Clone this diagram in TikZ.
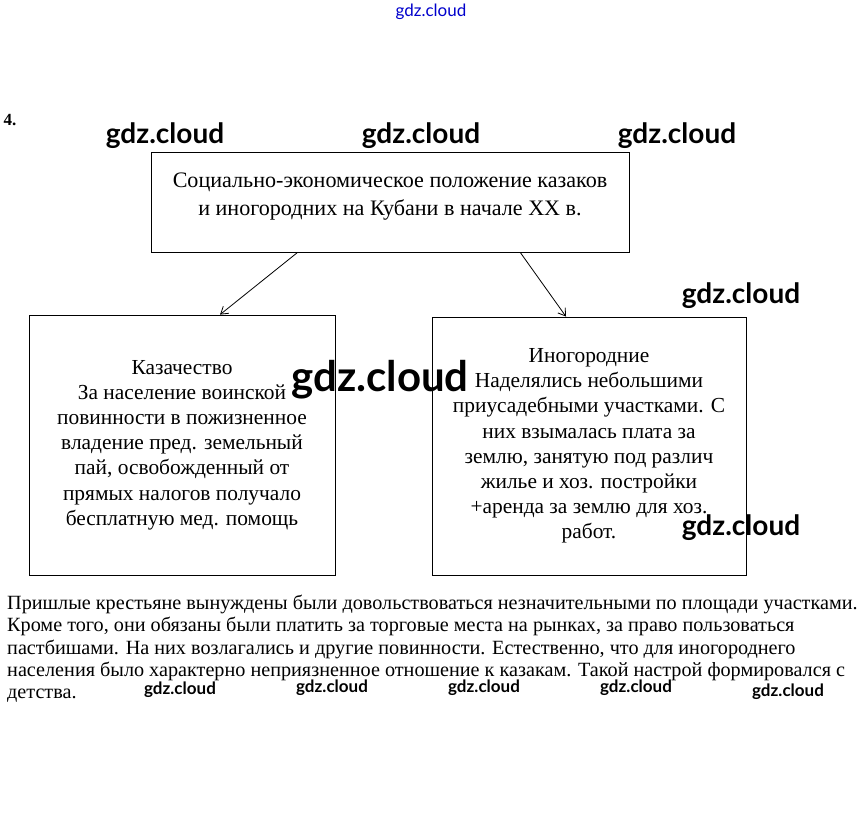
\documentclass[tikz,border=0pt]{standalone}
\usepackage{fontspec}
\setmainfont{Liberation Serif}
\newfontfamily\wmfont{Lato}
\usetikzlibrary{arrows.meta,calc}

\tikzset{
  box/.style={draw,thick,align=center,inner sep=0pt},
  arr/.style={-{Straight Barb[length=7pt,width=9pt]},thick},
  wm/.style={font=\wmfont\bfseries\fontsize{28}{28}\selectfont},
  wmsmall/.style={font=\wmfont\bfseries\fontsize{17}{17}\selectfont}
}

\begin{document}
\begin{tikzpicture}[x=1pt,y=-1pt]
  % --- Page ---
  \useasboundingbox[fill=white] (0,0) rectangle (862,812);

  % --- Number ---
  \node[anchor=west,font=\bfseries\fontsize{17}{17}\selectfont] (num) at (0,120) {4.};

  % --- Top box ---
  \node[box,minimum width=478,minimum height=100,text depth=16pt,
        font=\fontsize{22.1}{28}\selectfont] (head) at (390,202)
        {Социально-экономическое положение казаков\\
         и иногородних на Кубани в начале XX в.};

  % --- Lower boxes ---
  \node[box,minimum width=306,minimum height=260,
        font=\fontsize{21.4}{25.2}\selectfont] (cossacks) at (182,445)
        {Казачество\\
         За население воинской\\
         повинности в пожизненное\\
         владение пред. земельный\\
         пай, освобожденный от\\
         прямых налогов получало\\
         бесплатную мед. помощь};

  \node[box,minimum width=314,minimum height=258,
        font=\fontsize{21.4}{25.2}\selectfont] (outsiders) at (589,446)
        {Иногородние\\
         Наделялись небольшими\\
         приусадебными участками. С\\
         них взымалась плата за\\
         землю, занятую под различ\\
         жилье и хоз. постройки\\
         +аренда за землю для хоз.\\
         работ.};

  % --- Arrows ---
  \draw[arr] ($(head.south west)!0.307!(head.south east)$)
          -- ($(cossacks.north west)!0.624!(cossacks.north east)$);
  \draw[arr] ($(head.south west)!0.772!(head.south east)$)
          -- ($(outsiders.north west)!0.427!(outsiders.north east)$);

  % --- Paragraph ---
  \node[anchor=north west,align=left,inner sep=0pt,
        font=\fontsize{20.2}{22.3}\selectfont] (text) at (7,595)
        {Пришлые крестьяне вынуждены были довольствоваться незначительными по площади участками.\\
         Кроме того, они обязаны были платить за торговые места на рынках, за право пользоваться\\
         пастбишами. На них возлагались и другие повинности. Естественно, что для иногороднего\\
         населения было характерно неприязненное отношение к казакам. Такой настрой формировался с\\
         детства.};

  % --- Watermarks ---
  \node[font=\wmfont\fontsize{17}{17}\selectfont,text=blue!80!black] (wm0) at (431,12) {gdz.cloud};
  \foreach \x/\y [count=\i] in {165/136,421/136,677/136,741/296,741/528}
    \node[wm] (wm\i) at (\x,\y) {gdz.cloud};
  \node[wm,font=\wmfont\bfseries\fontsize{42}{42}\selectfont] (wmbig) at (380,380) {gdz.cloud};
  \foreach \x/\y [count=\i] in {180/690,332/688,484/688,636/688,788/692}
    \node[wmsmall] (wms\i) at (\x,\y) {gdz.cloud};
\end{tikzpicture}
\end{document}
